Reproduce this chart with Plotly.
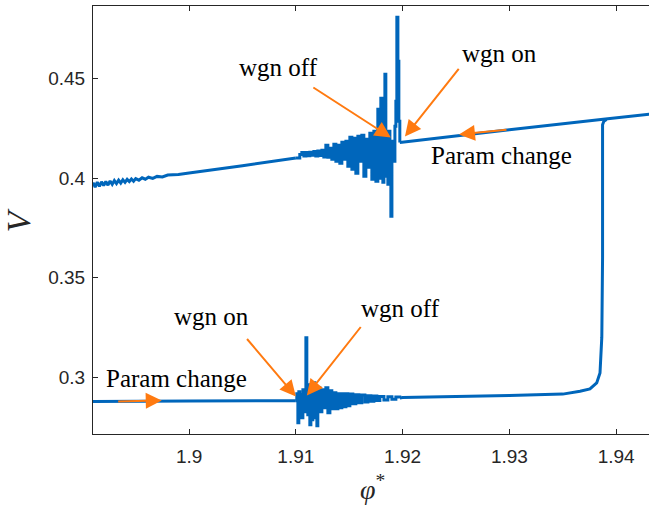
import plotly.graph_objects as go

# ---------------- data ----------------
# Upper branch, left part (slightly noisy start), phi increasing
upper_left_phi = [
    1.8910, 1.8912, 1.8914, 1.8916, 1.8918, 1.8920, 1.8922, 1.8924, 1.8926,
    1.8928, 1.8930, 1.8932, 1.8934, 1.8936, 1.8938, 1.8940, 1.8942, 1.8944,
    1.8946, 1.8948, 1.8950, 1.8953, 1.8956, 1.8959, 1.8962, 1.8966, 1.8970,
    1.8975, 1.8980, 1.8990, 1.9000, 1.9050, 1.9100,
]
upper_left_v = [
    0.3977, 0.3954, 0.3979, 0.3958, 0.3981, 0.3962, 0.3983, 0.3964, 0.3985,
    0.3968, 0.3987, 0.3972, 0.3989, 0.3974, 0.3991, 0.3978, 0.3993, 0.3982,
    0.3995, 0.3984, 0.3997, 0.3989, 0.4001, 0.3994, 0.4004, 0.3998, 0.4008,
    0.4005, 0.4015, 0.4018, 0.4025, 0.4062, 0.4100,
]

# Upper branch, noise burst around the wgn on/off events
upper_noise_phi = [
    1.91000, 1.91037, 1.91056, 1.91075, 1.91094, 1.91112, 1.91131, 1.91150,
    1.91169, 1.91187, 1.91206, 1.91225, 1.91244, 1.91262, 1.91281, 1.91300,
    1.91319, 1.91337, 1.91356, 1.91375, 1.91394, 1.91412, 1.91431, 1.91450,
    1.91469, 1.91487, 1.91506, 1.91525, 1.91543, 1.91562, 1.91581, 1.91600,
    1.91618, 1.91637, 1.91656, 1.91675, 1.91693, 1.91712, 1.91731, 1.91750,
    1.91768, 1.91787, 1.91796, 1.91815, 1.91825, 1.91834, 1.91843, 1.91853,
    1.91862, 1.91871, 1.91881, 1.91890, 1.91900, 1.91909, 1.91918, 1.91928,
    1.91937, 1.91946, 1.91956, 1.91965, 1.91974,
]
upper_noise_v = [
    0.41000, 0.41180, 0.41280, 0.41100, 0.41280, 0.41120, 0.41300, 0.41140,
    0.41330, 0.41110, 0.41360, 0.41130, 0.41400, 0.41050, 0.41645, 0.41041,
    0.41494, 0.40941, 0.41695, 0.40840, 0.41645, 0.40739, 0.41796, 0.40941,
    0.41846, 0.40589, 0.42047, 0.40438, 0.41997, 0.40236, 0.42098, 0.40840,
    0.42148, 0.40086, 0.41947, 0.40538, 0.42248, 0.39935, 0.42349, 0.39834,
    0.43456, 0.39985, 0.44009, 0.39784, 0.42852, 0.45216, 0.40086, 0.41846,
    0.39683, 0.42349, 0.40840, 0.38073, 0.41343, 0.41846, 0.40840, 0.42601,
    0.43858, 0.48083, 0.45870, 0.42852, 0.41780,
]

# Upper branch, right part
upper_right_phi = [1.91974, 1.9300, 1.9390, 1.9435]
upper_right_v = [0.41780, 0.4243, 0.4296, 0.4323]

# Lower branch, left part
lower_left_phi = [1.8910, 1.9000, 1.9100]
lower_left_v = [0.2877, 0.2879, 0.2881]

# Lower branch, noise burst
lower_noise_phi = [
    1.91000, 1.91009, 1.91019, 1.91028, 1.91037, 1.91047, 1.91056, 1.91066,
    1.91075, 1.91084, 1.91094, 1.91103, 1.91112, 1.91122, 1.91131, 1.91141,
    1.91150, 1.91159, 1.91178, 1.91187, 1.91197, 1.91206, 1.91225, 1.91244,
    1.91262, 1.91281, 1.91300, 1.91319, 1.91337, 1.91356, 1.91375, 1.91394,
    1.91412, 1.91431, 1.91450, 1.91469, 1.91487, 1.91506, 1.91534, 1.91562,
    1.91590, 1.91618, 1.91647, 1.91675, 1.91703, 1.91731, 1.91759, 1.91787,
    1.91825, 1.91862, 1.91900, 1.91937, 1.91974,
]
lower_noise_v = [
    0.28810, 0.29160, 0.27701, 0.29261, 0.28355, 0.29110, 0.27953, 0.29361,
    0.28255, 0.29261, 0.31977, 0.29059, 0.28104, 0.29613, 0.27601, 0.29512,
    0.27852, 0.29713, 0.29562, 0.27953, 0.27550, 0.29462, 0.28255, 0.29361,
    0.28456, 0.29462, 0.28204, 0.29311, 0.28405, 0.29210, 0.28405, 0.29160,
    0.28456, 0.29160, 0.28506, 0.29160, 0.28556, 0.29140, 0.28660, 0.29110,
    0.28710, 0.29100, 0.28740, 0.29060, 0.28780, 0.29050, 0.28820, 0.29020,
    0.28850, 0.29010, 0.28880, 0.28990, 0.28940,
]

# Lower branch, right part up to the jump onto the upper branch
lower_right_phi = [
    1.91974, 1.9200, 1.9300, 1.9350, 1.93662, 1.93755, 1.93818, 1.93849,
    1.93866, 1.93873, 1.93873, 1.93885, 1.93910,
]
lower_right_v = [
    0.28940, 0.2897, 0.2907, 0.2914, 0.2928, 0.2940, 0.2970, 0.3020,
    0.3200, 0.3600, 0.4268, 0.4285, 0.4294,
]

x_ticks = [1.90, 1.91, 1.92, 1.93, 1.94]
x_tick_text = ["1.9", "1.91", "1.92", "1.93", "1.94"]
y_ticks = [0.30, 0.35, 0.40, 0.45]
y_tick_text = ["0.3", "0.35", "0.4", "0.45"]

LINE_BLUE = "#0066BB"
ARROW_ORANGE = "#FF7A10"
AXIS_GRAY = "#262626"
SERIF = "Liberation Serif, Times New Roman, serif"
SANS = "Liberation Sans, Arial, sans-serif"

fig = go.Figure()
segments = [
    (upper_left_phi, upper_left_v, "linear"),
    (upper_noise_phi, upper_noise_v, "hv"),
    (upper_right_phi, upper_right_v, "linear"),
    (lower_left_phi, lower_left_v, "linear"),
    (lower_noise_phi, lower_noise_v, "hv"),
    (lower_right_phi, lower_right_v, "linear"),
]
for xs, ys, shape in segments:
    fig.add_trace(go.Scatter(
        x=xs, y=ys, mode="lines",
        line=dict(color=LINE_BLUE, width=3, shape=shape, simplify=False),
        hoverinfo="skip", showlegend=False,
    ))

# text labels (centre positions in data units)
labels = [
    ("wgn off", 1.90841, 0.45528),
    ("wgn on", 1.92912, 0.46281),
    ("Param change", 1.92930, 0.41156),
    ("wgn on", 1.90208, 0.33040),
    ("wgn off", 1.91984, 0.33442),
    ("Param change", 1.89885, 0.29925),
]
for txt, lx, ly in labels:
    fig.add_annotation(
        x=lx, y=ly, xref="x", yref="y", text=txt, showarrow=False,
        xanchor="center", yanchor="middle",
        font=dict(family=SERIF, size=25, color="black"),
    )

# arrows: (tail phi, tail V, tip phi, tip V)
arrows = [
    (1.91150, 0.44598, 1.91890, 0.42035),
    (1.92537, 0.45553, 1.92022, 0.42085),
    (1.92987, 0.42437, 1.92528, 0.42186),
    (1.90531, 0.31985, 1.91000, 0.29020),
    (1.91619, 0.32588, 1.91103, 0.29070),
    (1.89322, 0.28769, 1.89744, 0.28819),
]
for ax0, ay0, x1, y1 in arrows:
    fig.add_annotation(
        x=x1, y=y1, xref="x", yref="y",
        ax=ax0, ay=ay0, axref="x", ayref="y",
        text="", showarrow=True,
        arrowhead=2, arrowsize=1.6, arrowwidth=2, arrowcolor=ARROW_ORANGE,
        standoff=0, startstandoff=0,
    )

# axis titles
fig.add_annotation(
    x=-0.134, y=0.5, xref="paper", yref="paper", text="<i>V</i>",
    showarrow=False, textangle=-90, xanchor="center", yanchor="middle",
    font=dict(family=SERIF, size=34, color=AXIS_GRAY),
)
fig.add_annotation(
    x=0.502, y=-0.124, xref="paper", yref="paper",
    text="<i>φ</i><sup>*</sup>",
    showarrow=False, xanchor="center", yanchor="middle",
    font=dict(family=SERIF, size=28, color=AXIS_GRAY),
)

fig.update_layout(
    width=649, height=507,
    margin=dict(l=93, r=0, t=6, b=73),
    paper_bgcolor="white", plot_bgcolor="white",
    xaxis=dict(
        range=[1.8910, 1.94308],
        tickvals=x_ticks, ticktext=x_tick_text,
        ticks="inside", ticklen=5, tickwidth=1, tickcolor=AXIS_GRAY,
        showline=True, linecolor=AXIS_GRAY, linewidth=1, mirror="ticks",
        showgrid=False, zeroline=False,
        tickfont=dict(family=SANS, size=19, color=AXIS_GRAY),
        ticklabelstandoff=5,
    ),
    yaxis=dict(
        range=[0.27136, 0.48643],
        tickvals=y_ticks, ticktext=y_tick_text,
        ticks="inside", ticklen=5, tickwidth=1, tickcolor=AXIS_GRAY,
        showline=True, linecolor=AXIS_GRAY, linewidth=1, mirror=False,
        showgrid=False, zeroline=False,
        tickfont=dict(family=SANS, size=19, color=AXIS_GRAY),
        ticklabelstandoff=3,
    ),
)

fig.write_html("out.html")
